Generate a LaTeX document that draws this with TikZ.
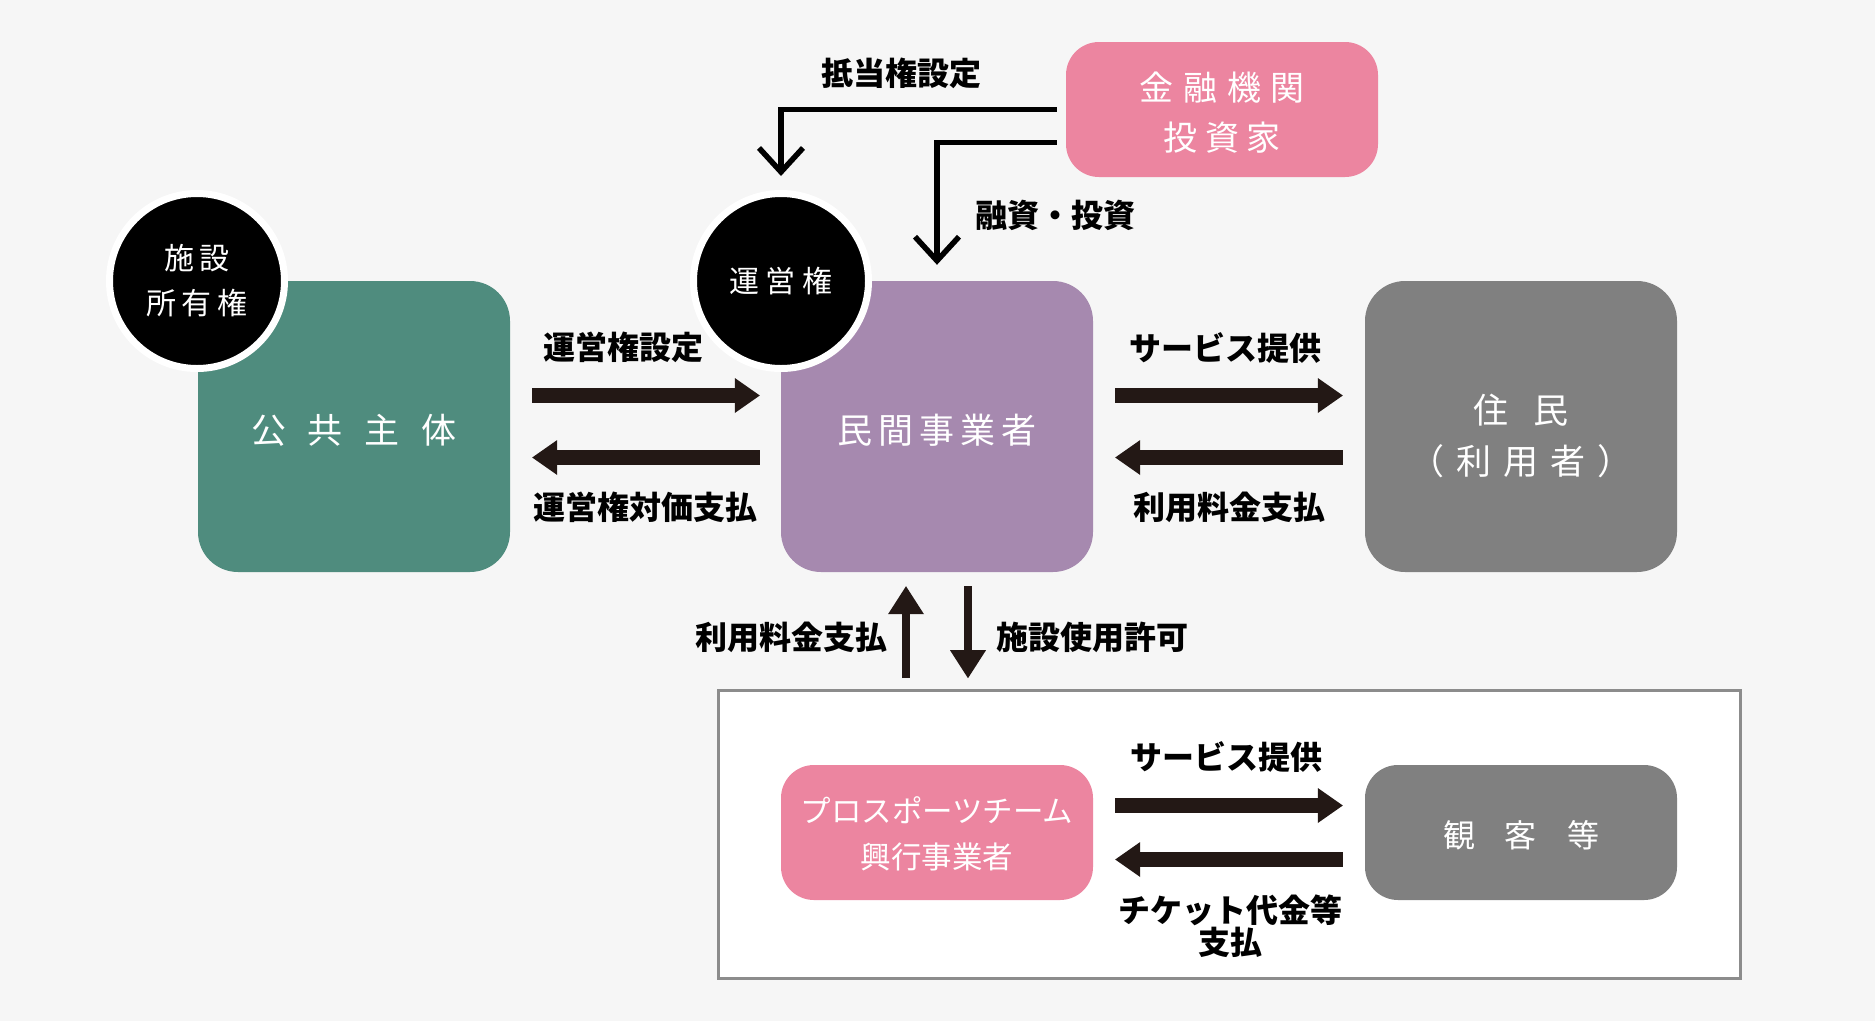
\documentclass[tikz,border=0pt]{standalone}
\usepackage{fontspec}
\newfontfamily\jpfont{Noto Sans CJK JP}
\usetikzlibrary{arrows.meta,calc}
\definecolor{bgcol}{HTML}{F6F6F6}
\definecolor{kokyocol}{HTML}{4F8C7E}
\definecolor{minkancol}{HTML}{A689AF}
\definecolor{jumincol}{HTML}{808080}
\definecolor{pinkcol}{HTML}{EC85A0}
\definecolor{arrowcol}{HTML}{231815}
\definecolor{framecol}{HTML}{8C8C8C}
\newcommand{\jsp}[1]{\hspace{#1pt}}
\tikzset{
  panel/.style={rounded corners=40pt, minimum width=312pt, minimum height=291pt, inner sep=0pt},
  smallpanel/.style={panel, rounded corners=33pt, minimum height=135pt},
  paneltext/.style={inner sep=0pt, text=white, align=center, font=\jpfont\fontsize{35}{51}\selectfont},
  badge/.style={circle, fill=black, draw=white, line width=7pt, minimum size=175pt, inner sep=0pt, text=white, align=center, font=\jpfont\fontsize{30}{45}\selectfont},
  lbl/.style={inner sep=0pt, align=center, font=\jpfont\bfseries\fontsize{32}{32}\selectfont},
  flow/.style={draw=arrowcol, line width=15pt, -{Triangle[length=25pt,width=35pt,line width=0pt]}},
  vflow/.style={draw=arrowcol, line width=8.5pt, -{Triangle[length=28pt,width=36pt,line width=0pt]}},
  feed/.style={draw=black, line width=5.5pt, -{Straight Barb[length=24pt,width=44pt]}}
}
\begin{document}
\begin{tikzpicture}[x=1pt,y=1pt,yscale=-1,xscale=1]
\fill[bgcol] (0,0) rectangle (1875,1021);
\useasboundingbox (0,0) rectangle (1875,1021);
\node (frame) at (1229,834) [draw=framecol, line width=3pt, fill=white, minimum width=1022pt, minimum height=288pt, inner sep=0pt] {};
\node (kokyo) at (354,426.5) [panel, fill=kokyocol] {};
\node (minkan) at (937,426.5) [panel, fill=minkancol] {};
\node (jumin) at (1521,426.5) [panel, fill=jumincol] {};
\node (kinyu) at (1222,109.5) [smallpanel, fill=pinkcol] {};
\node (kogyo) at (937,832.5) [smallpanel, fill=pinkcol] {};
\node (kankyaku) at (1521,832.5) [smallpanel, fill=jumincol] {};
\node (kokyotext) at ($(kokyo)+(0,4)$) [paneltext] {公\jsp{22}共\jsp{22}主\jsp{22}体};
\node (minkantext) at ($(minkan)+(0,4)$) [paneltext] {民\jsp{6}間\jsp{6}事\jsp{6}業\jsp{6}者};
\node (jumintext) at ($(jumin)+(0,9)$) [paneltext] {住\jsp{25}民\\（\jsp{12}利\jsp{12}用\jsp{12}者\jsp{12}）};
\node (kinyutext) at ($(kinyu)+(0,3)$) [paneltext, font=\jpfont\fontsize{34}{50}\selectfont] {金\jsp{10}融\jsp{10}機\jsp{10}関\\投\jsp{8}資\jsp{8}家};
\node (kogyotext) at ($(kogyo)+(0,1)$) [paneltext, font=\jpfont\fontsize{30.5}{46}\selectfont] {プロスポーツチーム\\興行事業者};
\node (kankyakutext) at ($(kankyaku)+(0,3)$) [paneltext, font=\jpfont\fontsize{32}{46}\selectfont] {観\jsp{30}客\jsp{30}等};
\node (shoyu) at (197,281) [badge] {施\jsp{6}設\\所\jsp{6}有\jsp{6}権};
\node (unei) at (781,281) [badge] {運\jsp{7}営\jsp{7}権};

\draw[feed] ($(kinyu.west)+(-9,0)$) -| ($(unei.north)+(0,-14)$);
\draw[feed] ($(kinyu.west)+(-9,33)$) -| ($(minkan.north)+(0,-16)$);
\draw[flow] ($(kokyo.east)+(22,-31)$) -- ($(minkan.west)+(-21,-31)$);
\draw[flow] ($(minkan.west)+(-21,31)$) -- ($(kokyo.east)+(22,31)$);
\draw[flow] ($(minkan.east)+(22,-31)$) -- ($(jumin.west)+(-22,-31)$);
\draw[flow] ($(jumin.west)+(-22,31)$) -- ($(minkan.east)+(22,31)$);
\draw[flow] ($(kogyo.east)+(22,-27)$) -- ($(kankyaku.west)+(-22,-27)$);
\draw[flow] ($(kankyaku.west)+(-22,27)$) -- ($(kogyo.east)+(22,27)$);
\draw[vflow] ($(minkan.south)+(-31,106)$) -- ($(minkan.south)+(-31,14)$);
\draw[vflow] ($(minkan.south)+(31,14)$) -- ($(minkan.south)+(31,106)$);

\node (teito) at (901,73) [lbl] {抵当権設定};
\node (yushi) at (1055,215) [lbl] {融資・投資};
\node (ueisettei) at (623,347) [lbl] {運営権設定};
\node (taika) at (645,507) [lbl] {運営権対価支払};
\node (service) at (1225,348) [lbl] {サービス提供};
\node (ryokin) at (1229,507) [lbl] {利用料金支払};
\node (ryokinup) at (791,637) [lbl] {利用料金支払};
\node (kyoka) at (1092,637) [lbl] {施設使用許可};
\node (servicelow) at (1226,757) [lbl] {サービス提供};
\node (ticket) at (1230,926) [lbl] {チケット代金等\\支払};
\end{tikzpicture}
\end{document}
